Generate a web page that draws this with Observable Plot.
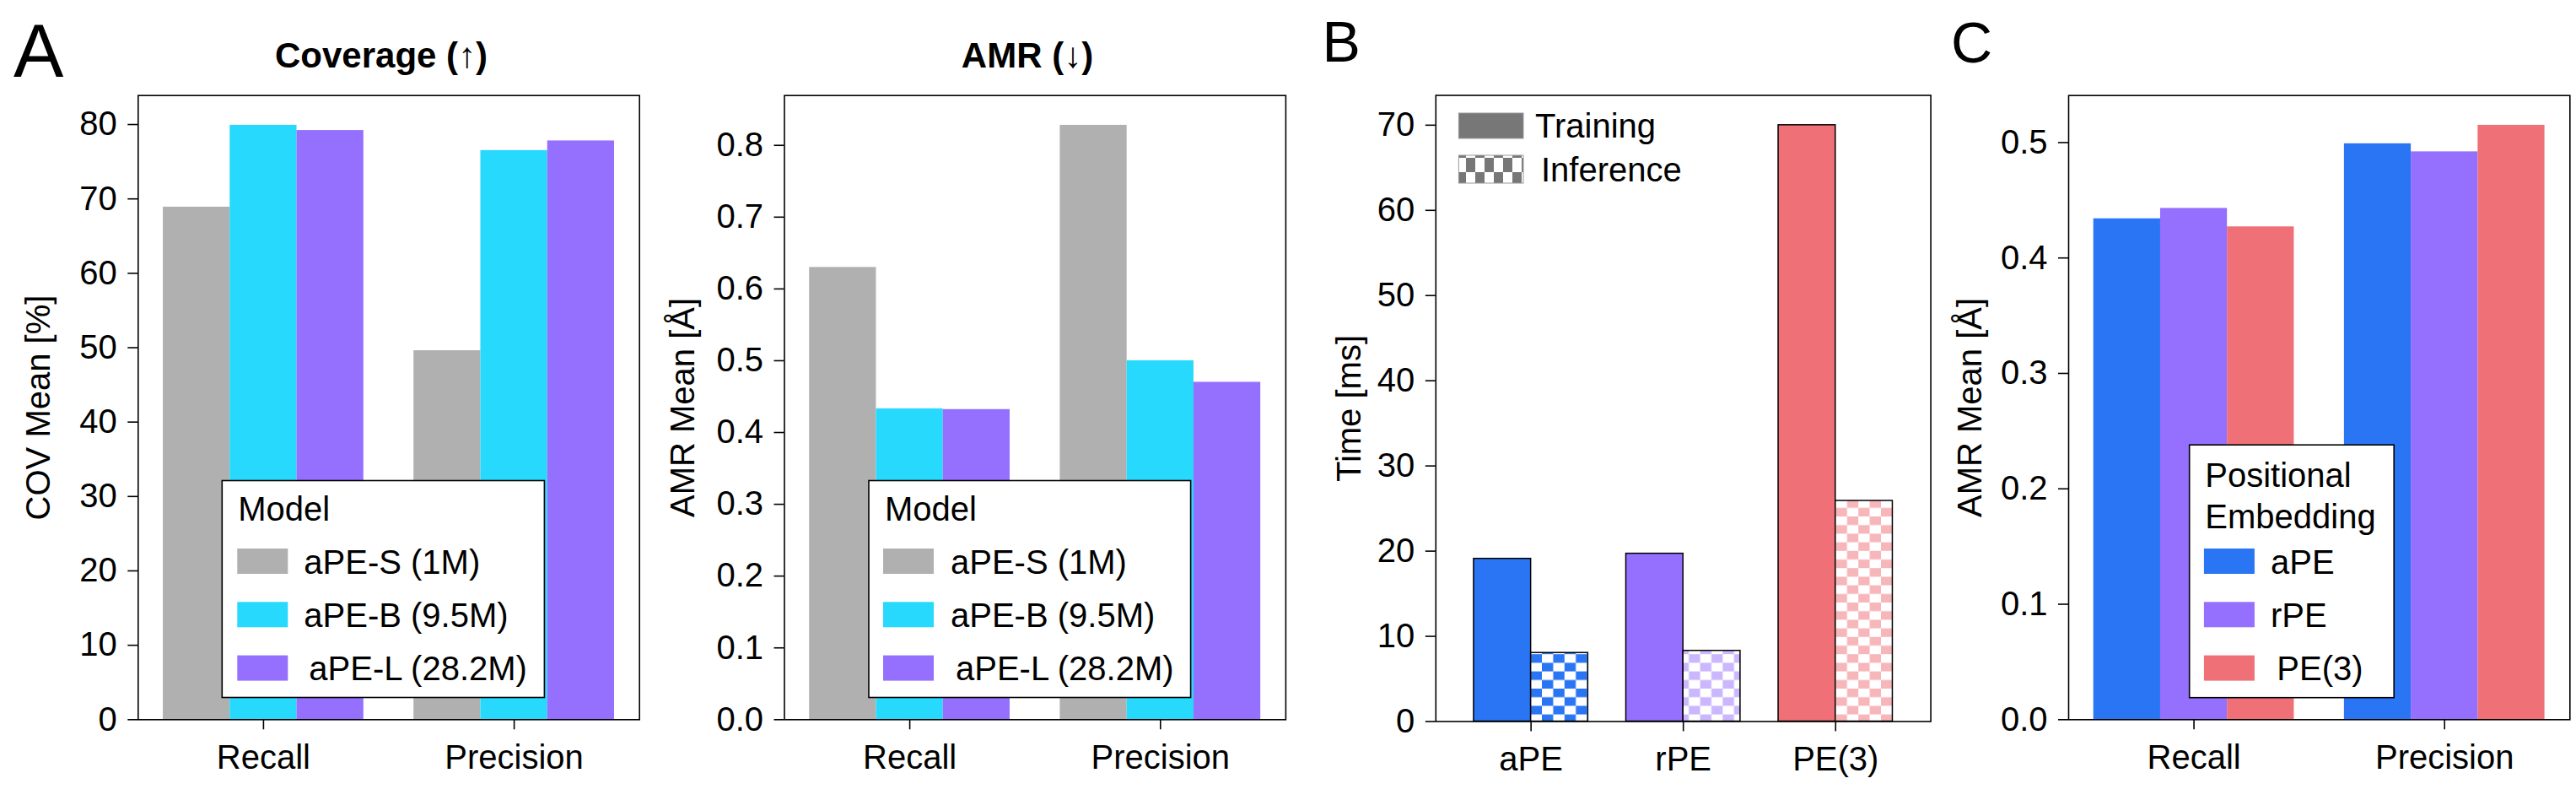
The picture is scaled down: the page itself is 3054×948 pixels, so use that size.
<!DOCTYPE html>
<html>
<head>
<meta charset="utf-8">
<script src="https://cdn.jsdelivr.net/npm/d3@7"></script>
<script src="https://cdn.jsdelivr.net/npm/@observablehq/plot@0.6"></script>
<style>
  html, body { margin: 0; padding: 0; background: #fff; }
  #fig { position: relative; width: 3054px; height: 948px; overflow: hidden; background: #fff; }
  #fig svg { position: absolute; }
</style>
</head>
<body>
<div id="fig"></div>
<script>
// ---------------- data ----------------
const metrics = ["Recall", "Precision"];
const models = ["aPE-S (1M)", "aPE-B (9.5M)", "aPE-L (28.2M)"];
const modelColors = ["#b0b0b0", "#26d9fd", "#956ffd"];
const covRecall = [68.9, 79.9, 79.2];
const covPrecision = [49.6, 76.5, 77.8];
const amrRecall = [0.630, 0.433, 0.432];
const amrPrecision = [0.828, 0.500, 0.470];

const peMethods = ["aPE", "rPE", "PE(3)"];
const peColors = ["#2a75f3", "#956ffd", "#ef7076"];
const timeSeries = ["Training", "Inference"];
const trainTime = [19.1, 19.7, 70.0];
const inferTime = [8.05, 8.3, 25.9];
const inferAlpha = [1, 0.5, 0.5];

const peAmrRecall = [0.434, 0.443, 0.427];
const peAmrPrecision = [0.499, 0.492, 0.515];

const covTicks = [0, 10, 20, 30, 40, 50, 60, 70, 80];
const amrTicks = [0, 0.1, 0.2, 0.3, 0.4, 0.5, 0.6, 0.7, 0.8];
const timeTicks = [0, 10, 20, 30, 40, 50, 60, 70];
const peAmrTicks = [0, 0.1, 0.2, 0.3, 0.4, 0.5];

// ---------------- helpers ----------------
const FONT = '"Liberation Sans", Arial, Helvetica, sans-serif';
const fig = document.getElementById("fig");

// pattern defs (checkerboards for inference bars)
const defsSvg = d3.select(fig).append("svg").attr("width", 0).attr("height", 0).style("left", "0px").style("top", "0px");
const defs = defsSvg.append("defs");
function checker(id, color, alpha, cw, ch) {
  const p = defs.append("pattern").attr("id", id).attr("patternUnits", "userSpaceOnUse")
    .attr("width", 2 * cw).attr("height", 2 * ch);
  p.append("rect").attr("width", 2 * cw).attr("height", 2 * ch).attr("fill", "#fff");
  p.append("rect").attr("x", cw).attr("y", 0).attr("width", cw).attr("height", ch).attr("fill", color).attr("fill-opacity", alpha);
  p.append("rect").attr("x", 0).attr("y", ch).attr("width", cw).attr("height", ch).attr("fill", color).attr("fill-opacity", alpha);
}
peMethods.forEach((m, i) => checker("chk-" + i, peColors[i], inferAlpha[i], 13.4, 10.2));
checker("chk-legend", "#777777", 1, 11, 17);

function barChart(o) {
  const W = o.width - o.ml - o.mr;
  const n = o.cats.length, k = o.series.length;
  const step = W / (n - o.pi + 2 * o.po);
  const bw = step * (1 - o.pi);
  const sub = bw / k;
  const marks = [];
  o.series.forEach((s, i) => {
    marks.push(Plot.barY(o.rows.filter(r => r.series === s), {
      x: "cat", y: "value", fill: o.fill,
      stroke: o.stroke, strokeWidth: o.strokeWidth,
      insetLeft: i * sub, insetRight: (k - 1 - i) * sub
    }));
  });
  marks.push(Plot.axisY({
    ticks: o.ticks, tickFormat: o.fmt, tickSize: 12, tickPadding: 13, strokeWidth: 1.6,
    label: o.label, labelAnchor: "center", labelOffset: o.labelOffset, labelArrow: "none"
  }));
  marks.push(Plot.axisX({tickSize: 12, tickPadding: 18, strokeWidth: 1.6, label: null}));
  marks.push(Plot.frame({stroke: "#000", strokeWidth: 1.6}));
  const svg = Plot.plot({
    width: o.width, height: 948,
    marginLeft: o.ml, marginRight: o.mr, marginTop: o.mt, marginBottom: 948 - o.bottom,
    x: {domain: o.cats, paddingInner: o.pi, paddingOuter: o.po, round: false, label: null},
    y: {domain: [0, o.ymax], label: o.label},
    color: o.color,
    style: {fontSize: "40px", fontFamily: FONT, color: "#000", background: "transparent", overflow: "visible"},
    marks
  });
  svg.style.left = o.left + "px";
  svg.style.top = "0px";
  fig.appendChild(svg);
}

function rowsFrom(cats, series, byCat) {
  const rows = [];
  cats.forEach((c, ci) => series.forEach((s, si) => rows.push({cat: c, series: s, value: byCat[ci][si]})));
  return rows;
}

// ---------------- Panel A: Coverage ----------------
barChart({
  left: 0, width: 780, ml: 163.3, mr: 22.3, mt: 112.7, bottom: 852.3,
  cats: metrics, series: models, pi: 0.2, po: 0.1,
  rows: rowsFrom(metrics, models, [covRecall, covPrecision]),
  fill: "series", color: {domain: models, range: modelColors},
  ymax: 1.05 * d3.max([...covRecall, ...covPrecision]),
  ticks: covTicks, fmt: d3.format("d"),
  label: "COV Mean [%]", labelOffset: 133.7
});

// ---------------- Panel A: AMR ----------------
barChart({
  left: 780, width: 780, ml: 149.5, mr: 36.1, mt: 112.7, bottom: 852.3,
  cats: metrics, series: models, pi: 0.2, po: 0.1,
  rows: rowsFrom(metrics, models, [amrRecall, amrPrecision]),
  fill: "series", color: {domain: models, range: modelColors},
  ymax: 1.05 * d3.max([...amrRecall, ...amrPrecision]),
  ticks: amrTicks, fmt: d3.format(".1f"),
  label: "AMR Mean [Å]", labelOffset: 135.3
});

// ---------------- Panel B: Time ----------------
const timeRows = [];
peMethods.forEach((m, i) => {
  timeRows.push({cat: m, series: "Training", value: trainTime[i], fill: peColors[i]});
  timeRows.push({cat: m, series: "Inference", value: inferTime[i], fill: "url(#chk-" + i + ")"});
});
barChart({
  left: 1560, width: 740, ml: 141.8, mr: 11.4, mt: 112.5, bottom: 854.5,
  cats: peMethods, series: timeSeries, pi: 0.25, po: 0.25,
  rows: timeRows, fill: "fill", color: {type: "identity"},
  stroke: "#000", strokeWidth: 1.5,
  ymax: 1.05 * d3.max([...trainTime, ...inferTime]),
  ticks: timeTicks, fmt: d3.format("d"),
  label: "Time [ms]", labelOffset: 117.6
});

// ---------------- Panel C: PE AMR ----------------
barChart({
  left: 2300, width: 754, ml: 152, mr: 7.7, mt: 112.7, bottom: 852.3,
  cats: metrics, series: peMethods, pi: 0.2, po: 0.1,
  rows: rowsFrom(metrics, peMethods, [peAmrRecall, peAmrPrecision]),
  fill: "series", color: {domain: peMethods, range: peColors},
  ymax: 1.05 * d3.max([...peAmrRecall, ...peAmrPrecision]),
  ticks: peAmrTicks, fmt: d3.format(".1f"),
  label: "AMR Mean [Å]", labelOffset: 132.4
});

// ---------------- overlay: letters, titles, legends ----------------
const ov = d3.select(fig).append("svg").attr("width", 3054).attr("height", 948)
  .style("left", "0px").style("top", "0px")
  .attr("font-family", FONT).attr("fill", "#000");

function txt(x, y, s, size, opts = {}) {
  const t = ov.append("text").attr("x", x).attr("y", y).attr("font-size", size).text(s);
  if (opts.bold) t.attr("font-weight", "bold");
  if (opts.anchor) t.attr("text-anchor", opts.anchor);
  return t;
}

txt(16, 91, "A", 89);
txt(1567.5, 72.5, "B", 68);
txt(2313, 74, "C", 68);
txt(452, 80, "Coverage (↑)", 42, {bold: true, anchor: "middle"});
txt(1218, 80, "AMR (↓)", 42, {bold: true, anchor: "middle"});

function boxedLegend(bx, by, bw, bh, titleLines, names, colors, cfg) {
  ov.append("rect").attr("x", bx).attr("y", by).attr("width", bw).attr("height", bh)
    .attr("fill", "#fff").attr("stroke", "#000").attr("stroke-width", 1.6);
  titleLines.forEach((t, i) => txt(bx + cfg.titleDx, by + cfg.titleY[i], t, 40));
  names.forEach((nm, i) => {
    const top = by + cfg.firstTop + i * cfg.rowGap;
    ov.append("rect").attr("x", bx + cfg.swDx).attr("y", top).attr("width", 60).attr("height", 30).attr("fill", colors[i]);
    txt(bx + cfg.textDx[i], top + 29.5, nm, 40);
  });
}

boxedLegend(263.3, 569.5, 382.1, 257, ["Model"], models, modelColors,
  {titleDx: 19, titleY: [47], firstTop: 80.5, rowGap: 63.3, swDx: 18, textDx: [97, 97, 103]});
boxedLegend(1030, 569.5, 381.6, 257, ["Model"], models, modelColors,
  {titleDx: 19, titleY: [47], firstTop: 80.5, rowGap: 63.3, swDx: 17, textDx: [97, 97, 103]});
boxedLegend(2595.7, 527.2, 242.5, 299.5, ["Positional", "Embedding"], peMethods, peColors,
  {titleDx: 18.6, titleY: [49.8, 98.8], firstTop: 122.8, rowGap: 63.3, swDx: 17.2, textDx: [96.3, 96.3, 103.6]});

// Panel B legend (no frame)
ov.append("rect").attr("x", 1729.4).attr("y", 134).attr("width", 76.6).attr("height", 30)
  .attr("fill", "#777777").attr("stroke", "#999").attr("stroke-width", 1);
txt(1820, 163, timeSeries[0], 40);
ov.append("rect").attr("x", 1729.4).attr("y", 184).attr("width", 76.6).attr("height", 33)
  .attr("fill", "url(#chk-legend)").attr("stroke", "#999").attr("stroke-width", 1);
txt(1827, 215, timeSeries[1], 40);
</script>
</body>
</html>
